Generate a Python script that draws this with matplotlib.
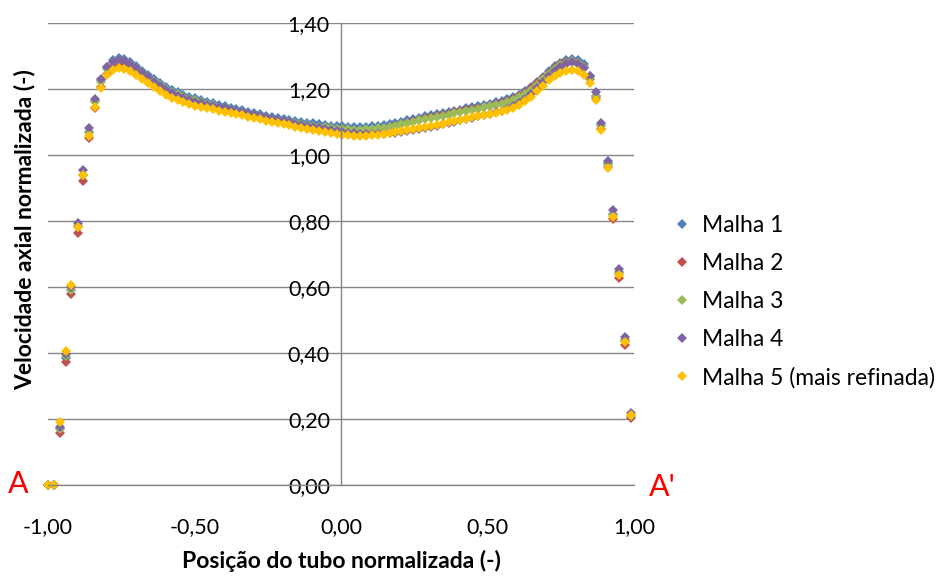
"""
Perfil de velocidade axial normalizada ao longo do tubo (A -> A')
para as cinco malhas do estudo de independencia de malha.
"""
import matplotlib
matplotlib.use("Agg")
import matplotlib.pyplot as plt
from matplotlib.ticker import FuncFormatter, MultipleLocator

# posicao normalizada ao longo do tubo (-)
POSICAO = [
    -1.000, -0.980, -0.960, -0.940, -0.920, -0.899, -0.879, -0.859, -0.839, -0.819,
    -0.799, -0.779, -0.759, -0.739, -0.719, -0.698, -0.678, -0.658, -0.638, -0.618,
    -0.598, -0.578, -0.558, -0.538, -0.518, -0.497, -0.477, -0.457, -0.437, -0.417,
    -0.397, -0.377, -0.357, -0.337, -0.317, -0.296, -0.276, -0.256, -0.236, -0.216,
    -0.196, -0.176, -0.156, -0.136, -0.116, -0.095, -0.075, -0.055, -0.035, -0.015,
    0.005, 0.025, 0.045, 0.065, 0.085, 0.106, 0.126, 0.146, 0.166, 0.186,
    0.206, 0.226, 0.246, 0.266, 0.286, 0.307, 0.327, 0.347, 0.367, 0.387,
    0.407, 0.427, 0.447, 0.467, 0.487, 0.508, 0.528, 0.548, 0.568, 0.588,
    0.608, 0.628, 0.648, 0.668, 0.688, 0.709, 0.729, 0.749, 0.769, 0.789,
    0.809, 0.829, 0.849, 0.869, 0.889, 0.910, 0.930, 0.950, 0.970, 0.990,
]

MALHA_1 = [
    0.000, 0.000, 0.170, 0.385, 0.590, 0.785, 0.940, 1.070, 1.165, 1.228,
    1.267, 1.287, 1.295, 1.292, 1.282, 1.270, 1.256, 1.243, 1.230, 1.218,
    1.207, 1.198, 1.190, 1.183, 1.177, 1.172, 1.167, 1.162, 1.157, 1.152,
    1.148, 1.143, 1.139, 1.135, 1.131, 1.127, 1.123, 1.119, 1.116, 1.113,
    1.110, 1.107, 1.104, 1.101, 1.098, 1.096, 1.093, 1.091, 1.089, 1.088,
    1.087, 1.086, 1.085, 1.085, 1.086, 1.087, 1.089, 1.091, 1.094, 1.097,
    1.101, 1.105, 1.109, 1.113, 1.117, 1.120, 1.124, 1.127, 1.131, 1.134,
    1.137, 1.141, 1.144, 1.148, 1.152, 1.156, 1.160, 1.164, 1.169, 1.175,
    1.183, 1.193, 1.205, 1.220, 1.237, 1.254, 1.269, 1.280, 1.288, 1.292,
    1.288, 1.275, 1.240, 1.180, 1.090, 0.975, 0.820, 0.645, 0.440, 0.210,
]

MALHA_2 = [
    0.000, 0.000, 0.158, 0.373, 0.579, 0.764, 0.921, 1.052, 1.142, 1.205,
    1.246, 1.270, 1.280, 1.280, 1.272, 1.261, 1.248, 1.234, 1.220, 1.207,
    1.196, 1.186, 1.178, 1.171, 1.165, 1.160, 1.155, 1.151, 1.147, 1.143,
    1.139, 1.135, 1.131, 1.127, 1.123, 1.119, 1.115, 1.111, 1.107, 1.104,
    1.100, 1.097, 1.094, 1.091, 1.088, 1.085, 1.082, 1.079, 1.077, 1.075,
    1.073, 1.072, 1.072, 1.072, 1.073, 1.075, 1.078, 1.081, 1.085, 1.089,
    1.094, 1.098, 1.103, 1.107, 1.111, 1.115, 1.118, 1.122, 1.125, 1.129,
    1.132, 1.135, 1.139, 1.142, 1.146, 1.150, 1.154, 1.158, 1.163, 1.170,
    1.178, 1.189, 1.202, 1.217, 1.233, 1.250, 1.264, 1.275, 1.282, 1.285,
    1.280, 1.266, 1.230, 1.172, 1.080, 0.965, 0.805, 0.626, 0.425, 0.202,
]

MALHA_3 = [
    0.000, 0.000, 0.170, 0.390, 0.590, 0.782, 0.940, 1.066, 1.160, 1.222,
    1.261, 1.281, 1.289, 1.286, 1.276, 1.264, 1.250, 1.237, 1.224, 1.212,
    1.201, 1.192, 1.184, 1.177, 1.171, 1.166, 1.161, 1.156, 1.151, 1.146,
    1.142, 1.137, 1.133, 1.129, 1.125, 1.121, 1.117, 1.113, 1.110, 1.107,
    1.104, 1.101, 1.098, 1.095, 1.092, 1.089, 1.086, 1.084, 1.082, 1.080,
    1.079, 1.078, 1.077, 1.077, 1.078, 1.079, 1.081, 1.083, 1.086, 1.089,
    1.093, 1.097, 1.101, 1.105, 1.108, 1.112, 1.115, 1.119, 1.122, 1.126,
    1.129, 1.133, 1.136, 1.140, 1.144, 1.148, 1.152, 1.156, 1.161, 1.167,
    1.175, 1.185, 1.197, 1.212, 1.229, 1.246, 1.261, 1.272, 1.280, 1.284,
    1.280, 1.267, 1.234, 1.178, 1.088, 0.970, 0.818, 0.640, 0.436, 0.208,
]

MALHA_4 = [
    0.000, 0.000, 0.176, 0.397, 0.600, 0.794, 0.955, 1.082, 1.170, 1.230,
    1.267, 1.283, 1.288, 1.285, 1.276, 1.264, 1.250, 1.236, 1.222, 1.209,
    1.198, 1.188, 1.180, 1.173, 1.167, 1.162, 1.157, 1.153, 1.149, 1.145,
    1.141, 1.137, 1.133, 1.129, 1.125, 1.121, 1.117, 1.113, 1.109, 1.106,
    1.102, 1.099, 1.095, 1.092, 1.089, 1.086, 1.083, 1.080, 1.077, 1.074,
    1.071, 1.068, 1.066, 1.064, 1.063, 1.063, 1.063, 1.064, 1.066, 1.068,
    1.071, 1.074, 1.077, 1.080, 1.083, 1.086, 1.089, 1.093, 1.097, 1.101,
    1.105, 1.109, 1.113, 1.117, 1.121, 1.125, 1.129, 1.134, 1.140, 1.148,
    1.158, 1.171, 1.186, 1.203, 1.221, 1.240, 1.256, 1.268, 1.277, 1.281,
    1.277, 1.265, 1.238, 1.192, 1.098, 0.982, 0.832, 0.656, 0.448, 0.219,
]

MALHA_5 = [
    0.000, 0.000, 0.192, 0.407, 0.606, 0.782, 0.938, 1.058, 1.145, 1.203,
    1.243, 1.259, 1.265, 1.262, 1.254, 1.243, 1.231, 1.218, 1.205, 1.193,
    1.182, 1.173, 1.166, 1.160, 1.155, 1.150, 1.146, 1.142, 1.138, 1.134,
    1.131, 1.127, 1.124, 1.120, 1.116, 1.112, 1.108, 1.104, 1.100, 1.097,
    1.093, 1.090, 1.086, 1.083, 1.080, 1.077, 1.074, 1.071, 1.068, 1.065,
    1.062, 1.060, 1.059, 1.058, 1.059, 1.060, 1.062, 1.065, 1.068, 1.071,
    1.074, 1.077, 1.079, 1.082, 1.085, 1.088, 1.091, 1.095, 1.099, 1.103,
    1.107, 1.110, 1.114, 1.117, 1.121, 1.124, 1.128, 1.132, 1.137, 1.143,
    1.152, 1.163, 1.177, 1.193, 1.210, 1.226, 1.239, 1.249, 1.255, 1.258,
    1.254, 1.243, 1.218, 1.168, 1.076, 0.962, 0.812, 0.636, 0.434, 0.212,
]

SERIES = [MALHA_1, MALHA_2, MALHA_3, MALHA_4, MALHA_5]
NOMES = ["Malha 1", "Malha 2", "Malha 3", "Malha 4", "Malha 5 (mais refinada)"]
CORES = ["#4F81BD", "#C0504D", "#9BBB59", "#8064A2", "#FFC000"]

CINZA = "#868686"
FONTE = ["Lato", "DejaVu Sans"]


def virgula(v, _pos):
    return f"{v:.2f}".replace(".", ",")


plt.rcParams["font.family"] = FONTE

fig = plt.figure(figsize=(9.38, 5.77), dpi=100)
# area de plotagem em pixels: x 48..634, y 23..485
ax = fig.add_axes([48 / 938, 92 / 577, 586 / 938, 462 / 577])

for ys, nome, cor in zip(SERIES, NOMES, CORES):
    ax.plot(POSICAO, ys, linestyle="none", marker="D", markersize=4.9,
            markeredgewidth=0, color=cor, label=nome, clip_on=False)

ax.set_xlim(-1, 1)
ax.set_ylim(0, 1.4)
ax.xaxis.set_major_locator(MultipleLocator(0.5))
ax.yaxis.set_major_locator(MultipleLocator(0.2))
ax.xaxis.set_major_formatter(FuncFormatter(virgula))
ax.yaxis.set_major_formatter(FuncFormatter(virgula))

ax.grid(axis="y", color=CINZA, linewidth=1)
ax.set_axisbelow(True)
for lado in ["top", "right"]:
    ax.spines[lado].set_visible(False)
ax.spines["left"].set_position(("data", 0))
for lado in ["left", "bottom"]:
    ax.spines[lado].set_color(CINZA)
    ax.spines[lado].set_linewidth(1)

ax.tick_params(axis="y", length=0, pad=8, labelsize=15.5, labelcolor="black")
ax.tick_params(axis="x", length=0, pad=23, labelsize=15.5, labelcolor="black")

ax.set_xlabel("Posição do tubo normalizada (-)", fontsize=16.5, fontweight="bold")
ax.xaxis.set_label_coords(293 / 586, (485 - 561) / 462)
ax.xaxis.label.set_va("center")
ax.set_ylabel("Velocidade axial normalizada (-)", fontsize=16.5, fontweight="bold")
ax.yaxis.set_label_coords((25 - 48) / 586, (485 - 230) / 462)
ax.yaxis.label.set_va("center")

ax.legend(loc="upper left", bbox_to_anchor=(674 / 938, 1 - 215 / 577),
          bbox_transform=fig.transFigure, frameon=False, fontsize=16.5,
          handlelength=0.7, handletextpad=0.5, labelspacing=0.74,
          borderpad=0, borderaxespad=0)

fig.text(18 / 938, 1 - 484 / 577, "A", color="red", fontsize=22,
         ha="center", va="center")
fig.text(662 / 938, 1 - 487 / 577, "A'", color="red", fontsize=22,
         ha="center", va="center")

fig.savefig("out.png", dpi=100)
plt.close(fig)
